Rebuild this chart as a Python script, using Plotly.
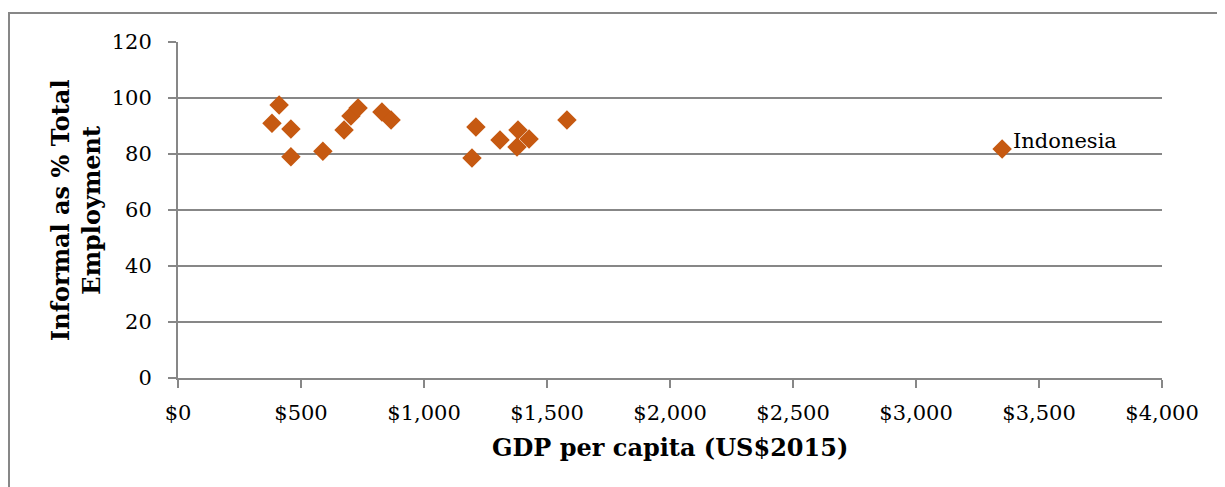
import plotly.graph_objects as go

gdp = [382, 411, 459, 459, 589, 675, 703, 732, 829, 866,
       1195, 1211, 1309, 1378, 1382, 1427, 1581, 3350]
informal = [91.0, 97.5, 88.9, 79.0, 81.0, 88.6, 93.6, 96.4, 95.0, 92.1,
            78.6, 89.6, 85.0, 82.5, 88.6, 85.4, 92.1, 81.8]
labels = [""] * 17 + ["Indonesia"]

x_ticks = [0, 500, 1000, 1500, 2000, 2500, 3000, 3500, 4000]
x_tick_text = ["$0", "$500", "$1,000", "$1,500", "$2,000", "$2,500", "$3,000", "$3,500", "$4,000"]
y_ticks = [0, 20, 40, 60, 80, 100, 120]

FONT = "DejaVu Serif"
GRID = "#878787"
ORANGE = "#C65911"

# page has an 8px body margin; figure sized to fit inside the window
W, H = 1217, 479
L, R, T, B = 170, 63, 34, 109
pw = W - L - R
ph = H - T - B

fig = go.Figure()
fig.add_trace(go.Scatter(
    x=gdp, y=informal, mode="markers",
    marker=dict(symbol="diamond", size=15, color=ORANGE, line=dict(width=0)),
    showlegend=False, hoverinfo="x+y",
))

for xv, yv, lab in zip(gdp, informal, labels):
    if lab:
        fig.add_annotation(x=xv, y=yv, text=lab, showarrow=False,
                           xanchor="left", yanchor="middle", xshift=9, yshift=8,
                           font=dict(family=FONT, size=21, color="#000000"))

# axis titles
fig.add_annotation(xref="paper", yref="paper", x=(68 - L) / pw, y=0.5,
                   text="<b>Informal as % Total<br>Employment</b>", textangle=-90,
                   showarrow=False, xanchor="center", yanchor="middle",
                   font=dict(family=FONT, size=24, color="#000000"))
fig.add_annotation(xref="paper", yref="paper", x=0.5, y=-(439 - (H - B)) / ph,
                   text="<b>GDP per capita (US$2015)</b>",
                   showarrow=False, xanchor="center", yanchor="middle",
                   font=dict(family=FONT, size=24, color="#000000"))

# outer frame
fig.add_shape(type="rect", xref="paper", yref="paper",
              x0=(1 - L) / pw, x1=(W + 20 - L) / pw,
              y0=-(H + 20 - T - ph) / ph, y1=(ph + T - 5) / ph,
              line=dict(color=GRID, width=2), layer="below")

fig.update_layout(
    width=W, height=H,
    margin=dict(l=L, r=R, t=T, b=B, autoexpand=False),
    paper_bgcolor="white", plot_bgcolor="white",
    font=dict(family=FONT, size=21, color="#000000"),
    xaxis=dict(
        range=[0, 4000], tickvals=x_ticks, ticktext=x_tick_text,
        showgrid=False, zeroline=False,
        showline=True, linecolor=GRID, linewidth=2,
        ticks="outside", ticklen=8, tickwidth=2, tickcolor=GRID,
        tickfont=dict(family=FONT, size=21), ticklabelstandoff=7,
    ),
    yaxis=dict(
        range=[0, 120], tickvals=y_ticks,
        showgrid=True, gridcolor=GRID, gridwidth=2,
        zeroline=False,
        showline=True, linecolor=GRID, linewidth=2,
        ticks="outside", ticklen=8, tickwidth=2, tickcolor=GRID,
        tickfont=dict(family=FONT, size=21), ticklabelstandoff=12,
    ),
)

fig.write_html("out.html")
